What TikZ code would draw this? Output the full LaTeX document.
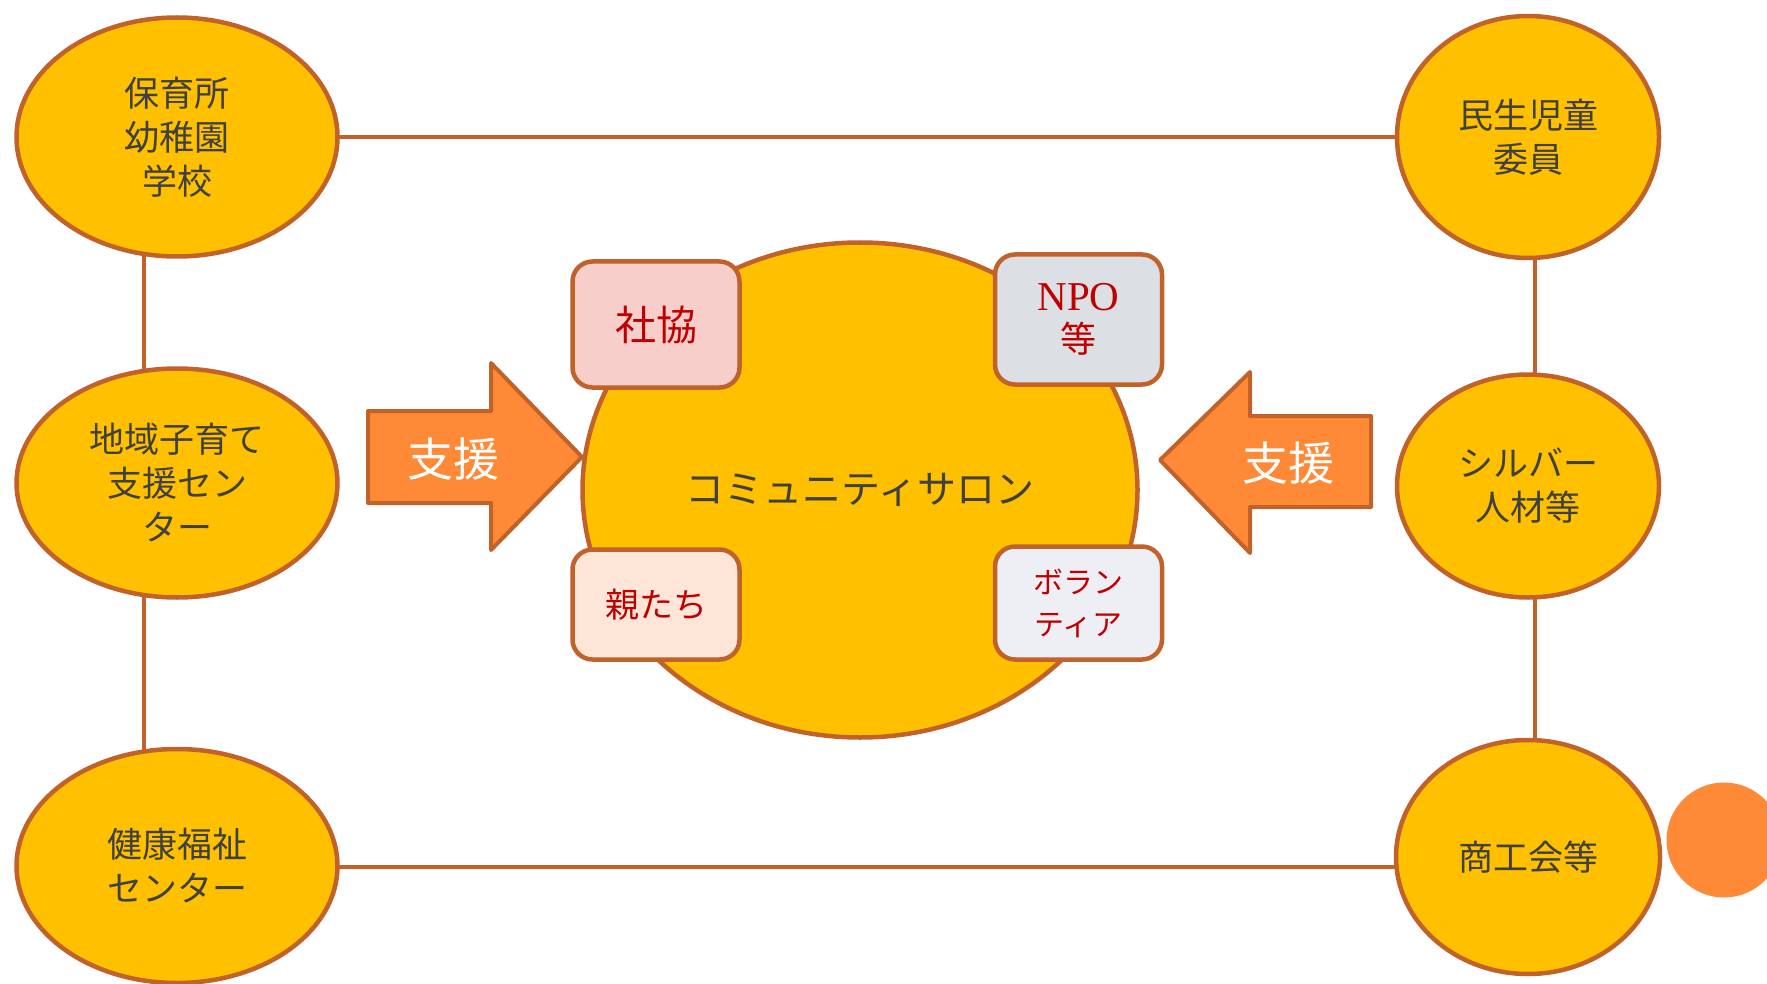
\documentclass[tikz,border=0pt]{standalone}
\usepackage{fontspec}
\newfontfamily\jp{Noto Sans CJK JP}
\newfontfamily\lser{Liberation Serif}
\usetikzlibrary{backgrounds,shapes.geometric}
\definecolor{edge}{HTML}{C0622A}
\definecolor{gold}{HTML}{FFC000}
\definecolor{arr}{HTML}{FE8A37}
\definecolor{txt}{HTML}{404040}
\definecolor{redt}{HTML}{C00000}
\definecolor{pinkb}{HTML}{F7CECA}
\definecolor{greyb}{HTML}{DCDFE4}
\definecolor{peachb}{HTML}{FDE5D8}
\definecolor{paleb}{HTML}{EEEFF5}
\tikzset{
  org/.style={ellipse, draw=edge, line width=4.5pt, fill=gold, inner sep=0pt,
    text=txt, align=center, font=\jp\fontsize{35}{44}\selectfont},
  link/.style={draw=edge, line width=4pt},
  tag/.style={rectangle, rounded corners=20pt, draw=edge, line width=4.5pt,
    minimum width=167pt, text=redt, align=center, inner sep=0pt},
  bigarrow/.style={fill=arr, draw=edge, line width=4pt, line join=round},
  arrowtext/.style={text=white, font=\jp\fontsize{46}{46}\selectfont}
}
\begin{document}
\begin{tikzpicture}[x=1pt,y=-1pt]
\useasboundingbox (0,0) rectangle (1767,984);
% outer organisations
\node[org, minimum width=321pt, minimum height=239pt] (tl) at (177,137) {保育所\\幼稚園\\学校};
\node[org, minimum width=321pt, minimum height=229pt] (ml) at (177,483) {地域子育て\\支援セン\\ター};
\node[org, minimum width=321pt, minimum height=234pt] (bl) at (177,866) {健康福祉\\センター};
\node[org, minimum width=262pt, minimum height=242pt] (tr) at (1528,137) {民生児童\\委員};
\node[org, minimum width=262pt, minimum height=223pt] (mr) at (1528,486) {シルバー\\人材等};
\node[org, minimum width=264pt, minimum height=234pt] (br) at (1528,857) {商工会等};
% decorative circle at the right edge
\node[circle, fill=arr, minimum size=115pt, inner sep=0pt] (dot) at (1724,840) {};
% connectors behind
\begin{scope}[on background layer]
\draw[link] (tl.center) -- (tr.center);
\draw[link] (bl.center |- 0,867) -- (br.center |- 0,867);
\draw[link] ([xshift=-33pt]tl.center) -- ([xshift=-33pt]ml.center);
\draw[link] ([xshift=-33pt]ml.center) -- ([xshift=-33pt]bl.center);
\draw[link] ([xshift=7pt]tr.center) -- ([xshift=7pt]mr.center);
\draw[link] ([xshift=7pt]mr.center) -- ([xshift=7pt]br.center);
\end{scope}
% central salon
\node[ellipse, draw=edge, line width=4.5pt, fill=gold, minimum width=555pt, minimum height=495pt,
  inner sep=0pt, text=txt, font=\jp\fontsize{39}{39}\selectfont] (salon) at (860,490) {コミュニティサロン};
% member tags
\node[tag, fill=pinkb, minimum height=126pt, font=\jp\fontsize{41}{44}\selectfont] (shakyo) at (656,324.5) {社協};
\node[tag, fill=greyb, minimum height=130pt, font=\jp\fontsize{36}{42}\selectfont] (npo) at (1078.5,319.5) {{\lser\fontsize{41}{42}\selectfont NPO}\\等};
\node[tag, fill=peachb, minimum height=110pt, font=\jp\fontsize{34}{42}\selectfont] (oya) at (656,604.5) {親たち};
\node[tag, fill=paleb, minimum height=113pt, font=\jp\fontsize{30}{42}\selectfont] (vol) at (1078.5,603) {ボラン\\ティア};
% support arrows
\draw[bigarrow] (368,411) -- (491,411) -- (491,363) -- (582,457) -- (491,550) -- (491,503) -- (368,503) -- cycle;
\node[arrowtext] (supl) at (453,459) {支援};
\draw[bigarrow] (1160,460) -- (1250,372) -- (1250,416) -- (1371,416) -- (1371,507) -- (1250,507) -- (1250,553) -- cycle;
\node[arrowtext] (supr) at (1288,463) {支援};
\end{tikzpicture}
\end{document}
